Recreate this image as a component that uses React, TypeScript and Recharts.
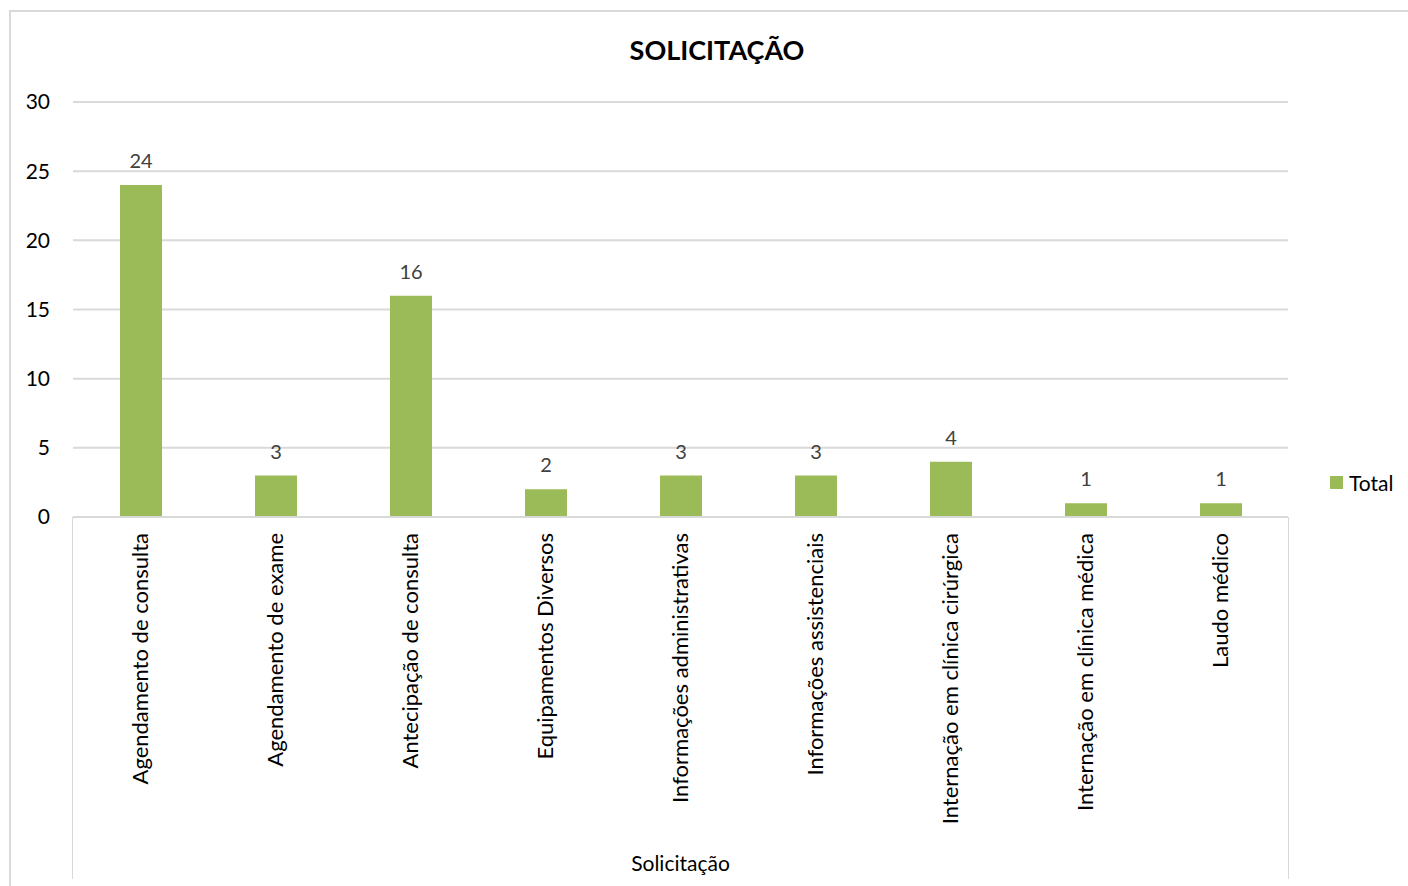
import { BarChart, Bar, XAxis, YAxis, CartesianGrid, LabelList } from 'recharts';

const categories = [
  'Agendamento de consulta',
  'Agendamento de exame',
  'Antecipação de consulta',
  'Equipamentos Diversos',
  'Informações administrativas',
  'Informações assistenciais',
  'Internação em clínica cirúrgica',
  'Internação em clínica médica',
  'Laudo médico'
];
const totals = [24, 3, 16, 2, 3, 3, 4, 1, 1];
const yTicks = [0, 5, 10, 15, 20, 25, 30];

const data = categories.map((name, i) => ({ name, total: totals[i] }));

const FONT = 'Lato, "Open Sans", sans-serif';
const GRID = '#d9d9d9';
const GREEN = '#9bbb59';

const YTick = ({ y, payload }: any) => (
  <text x={50} y={y} dy="0.35em" textAnchor="end" fontSize={21} fill="#000" fontFamily={FONT}>
    {payload.value}
  </text>
);

const XTick = ({ x, payload }: any) => (
  <text
    transform={`translate(${x + 7},533) rotate(-90)`}
    textAnchor="end"
    fontSize={22}
    fill="#000"
    fontFamily={FONT}
  >
    {payload.value}
  </text>
);

export default function App() {
  return (
    <div style={{ position: 'absolute', left: 0, top: 0, width: 1408, height: 886, overflow: 'hidden', background: '#fff' }}>
      <div style={{ position: 'absolute', left: 9, top: 10, width: 1420, height: 900, borderTop: `2px solid ${GRID}`, borderLeft: `2px solid ${GRID}` }} />
      <div style={{ position: 'absolute', left: 0, width: 1434, top: 33, textAlign: 'center', fontFamily: FONT, fontWeight: 700, fontSize: 27 }}>
        SOLICITAÇÃO
      </div>
      <div style={{ position: 'absolute', left: 72, top: 517, width: 1, height: 362, background: GRID }} />
      <div style={{ position: 'absolute', left: 1288, top: 517, width: 1, height: 362, background: GRID }} />
      <div style={{ position: 'absolute', left: 1330, top: 470, display: 'flex', alignItems: 'center', fontFamily: FONT, fontSize: 21 }}>
        <span style={{ width: 13, height: 13, background: GREEN, marginRight: 6, display: 'inline-block' }} />
        <span>Total</span>
      </div>
      <div style={{ position: 'absolute', left: 0, top: 0 }}>
        <BarChart width={1408} height={886} data={data} margin={{ top: 102, right: 120, bottom: 6, left: 0 }}>
          <CartesianGrid vertical={false} stroke={GRID} strokeWidth={2} />
          <YAxis
            width={73}
            domain={[0, 30]}
            ticks={yTicks}
            axisLine={false}
            tickLine={false}
            tick={<YTick />}
          />
          <XAxis
            dataKey="name"
            height={363}
            interval={0}
            axisLine={{ stroke: GRID, strokeWidth: 2 }}
            tickLine={false}
            tick={<XTick />}
            label={{ value: 'Solicitação', position: 'insideBottom', offset: 9, fontSize: 21, fill: '#000', fontFamily: FONT }}
          />
          <Bar dataKey="total" name="Total" fill={GREEN} barSize={42} isAnimationActive={false}>
            <LabelList dataKey="total" position="top" offset={17} fontSize={20} fill="#404040" fontFamily={FONT} />
          </Bar>
        </BarChart>
      </div>
    </div>
  );
}
